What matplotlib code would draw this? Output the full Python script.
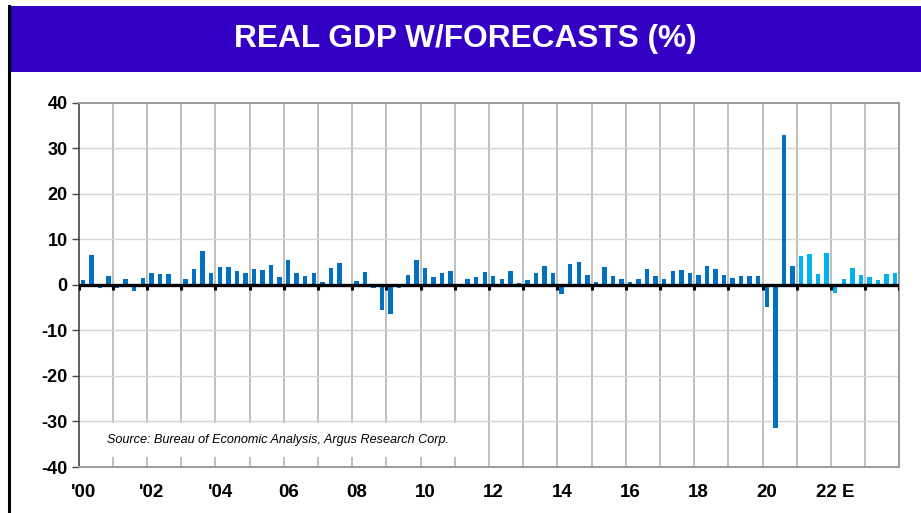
import numpy as np
import matplotlib
matplotlib.use("Agg")
import matplotlib.pyplot as plt
import matplotlib.transforms as mtransforms
from matplotlib.patches import Rectangle
from matplotlib.lines import Line2D

# Quarterly real GDP growth, 2000 Q1 - 2020 Q4 (actual)
gdp_actual = [
    1.0, 6.5, -0.6, 2.0,     # 2000
    -0.6, 1.2, -1.4, 1.6,    # 2001
    2.7, 2.3, 2.4, 0.2,      # 2002
    1.2, 3.5, 7.5, 2.7,      # 2003
    3.9, 3.9, 3.1, 2.7,      # 2004
    3.4, 3.2, 4.3, 1.75,     # 2005
    5.5, 2.6, 2.0, 2.5,      # 2006
    0.7, 3.8, 4.8, 0.2,      # 2007
    0.9, 2.8, -0.6, -5.5,    # 2008
    -6.4, -0.7, 2.2, 5.5,    # 2009
    3.6, 1.75, 2.6, 3.1,     # 2010
    0.1, 1.3, 1.75, 2.9,     # 2011
    2.0, 1.2, 3.1, 0.4,      # 2012
    1.0, 2.5, 4.1, 2.6,      # 2013
    -2.0, 4.5, 5.0, 2.2,     # 2014
    0.6, 3.9, 2.0, 1.3,      # 2015
    0.7, 1.3, 3.5, 2.0,      # 2016
    1.2, 3.1, 3.2, 2.5,      # 2017
    2.2, 4.2, 3.4, 2.2,      # 2018
    1.5, 1.9, 2.0, 2.0,      # 2019
    -4.9, -31.4, 33.0, 4.2,  # 2020
]
# 2021 Q1 - 2023 Q4 (forecast colour)
gdp_forecast = [
    6.3, 6.8, 2.4, 7.0,      # 2021
    -1.7, 1.3, 3.7, 2.2,     # 2022
    1.75, 1.1, 2.4, 2.6,     # 2023
]
label_years = [2000, 2002, 2004, 2006, 2008, 2010, 2012, 2014, 2016, 2018, 2020, 2022]
label_text = ["'00", "'02", "'04", "06", "08", "10", "12", "14", "16", "18", "20", "22 E"]
y_ticks = [-40, -30, -20, -10, 0, 10, 20, 30, 40]

source_note = "Source: Bureau of Economic Analysis, Argus Research Corp."
title = "REAL GDP W/FORECASTS (%)"

DARK = "#0070C0"
LIGHT = "#00B0F0"
PURPLE = "#3300C4"

plt.rcParams["font.family"] = ["Liberation Sans", "DejaVu Sans"]

fig = plt.figure(figsize=(9.21, 5.13), dpi=100)

# title band and left border
fig.add_artist(Rectangle((9 / 921, 1 - 71.7 / 513), 1 - 9 / 921, 65.7 / 513,
                         transform=fig.transFigure, facecolor=PURPLE, edgecolor="none"))
fig.text(0.5 + 4.5 / 921, 1 - 39 / 513, title, color="white", fontsize=22.8,
         fontweight="bold", ha="center", va="center")
fig.add_artist(Line2D([9 / 921, 9 / 921], [0, 1 - 6 / 513], transform=fig.transFigure,
                      color="black", lw=2.2))

ax = fig.add_axes([78.7 / 921, 46 / 513, (899.3 - 78.7) / 921, (467 - 102.7) / 513])

n_act = len(gdp_actual)
x_act = 2000 + (np.arange(n_act) + 0.5) / 4
x_fc = 2000 + (np.arange(n_act, n_act + len(gdp_forecast)) + 0.5) / 4
ax.bar(x_act, gdp_actual, width=0.13, color=DARK, zorder=3)
ax.bar(x_fc, gdp_forecast, width=0.13, color=LIGHT, zorder=3)

ax.set_xlim(2000, 2024)
ax.set_ylim(-40, 40)

# grid
for yr in range(2001, 2024):
    ax.axvline(yr, color="#B4B4B4", lw=1.2, zorder=1)
for yv in y_ticks[1:-1]:
    ax.axhline(yv, color="#D4D4D4", lw=1.0, zorder=1)

# zero line with small year marks
ax.axhline(0, color="black", lw=2.4, zorder=4)
ax.vlines(range(2000, 2025), -1.1, 0, color="black", lw=2.2, zorder=4)

ax.set_yticks(y_ticks)
ax.set_yticklabels([str(v) for v in y_ticks], fontsize=13, fontweight="bold")
ax.tick_params(axis="y", length=5, width=1, color="#444444", pad=3)

ax.set_xticks(label_years)
ax.set_xticklabels(label_text, fontsize=13.5, fontweight="bold")
ax.tick_params(axis="x", length=0, pad=12)
offset = mtransforms.ScaledTranslation(4.6 / 100, 0, fig.dpi_scale_trans)
for lab in ax.get_xticklabels():
    lab.set_transform(lab.get_transform() + offset)

for side in ["top", "right", "bottom"]:
    ax.spines[side].set_color("#9A9A9A")
    ax.spines[side].set_linewidth(1.4)
ax.spines["left"].set_color("#444444")
ax.spines["left"].set_linewidth(1.2)

ax.text(2000.83, -34, source_note, fontsize=9.1, style="italic", ha="left", va="center",
        zorder=5, bbox=dict(facecolor="white", edgecolor="none", pad=8))

fig.savefig("out.png", dpi=100)
